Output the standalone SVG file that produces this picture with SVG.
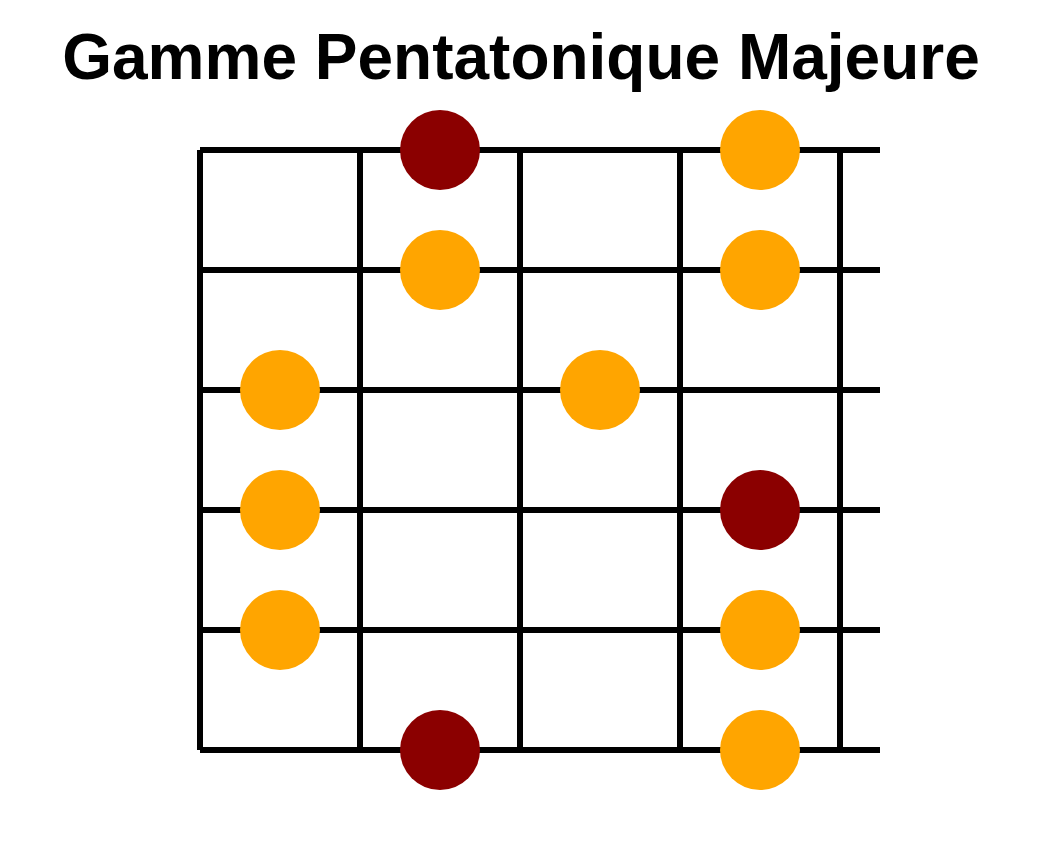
<svg xmlns="http://www.w3.org/2000/svg" width="1040" height="850" viewBox="0 0 1040 850">
<style>
.title{font-family:"Liberation Sans",Arial,sans-serif;font-weight:bold;font-size:64px;fill:#000}
.ln{stroke:#000;stroke-width:6;fill:none;stroke-linecap:butt}
.note{fill:#FFA500}
.root{fill:#8B0000}
</style>
<rect width="1040" height="850" fill="#fff"/>
<text class="title" x="521" y="79" text-anchor="middle">Gamme Pentatonique Majeure</text>
<g id="connectors">
<line class="ln" x1="200" y1="150" x2="880" y2="150"/>
<line class="ln" x1="200" y1="270" x2="880" y2="270"/>
<line class="ln" x1="200" y1="390" x2="880" y2="390"/>
<line class="ln" x1="200" y1="510" x2="880" y2="510"/>
<line class="ln" x1="200" y1="630" x2="880" y2="630"/>
<line class="ln" x1="200" y1="750" x2="880" y2="750"/>
<line class="ln" x1="200" y1="150" x2="200" y2="750"/>
<line class="ln" x1="360" y1="150" x2="360" y2="750"/>
<line class="ln" x1="520" y1="150" x2="520" y2="750"/>
<line class="ln" x1="680" y1="150" x2="680" y2="750"/>
<line class="ln" x1="840" y1="150" x2="840" y2="750"/>
</g>
<g id="n1"><circle class="root" cx="440" cy="150" r="40"/></g>
<g id="n2"><circle class="note" cx="760" cy="150" r="40"/></g>
<g id="n3"><circle class="note" cx="440" cy="270" r="40"/></g>
<g id="n4"><circle class="note" cx="760" cy="270" r="40"/></g>
<g id="n5"><circle class="note" cx="280" cy="390" r="40"/></g>
<g id="n6"><circle class="note" cx="600" cy="390" r="40"/></g>
<g id="n7"><circle class="note" cx="280" cy="510" r="40"/></g>
<g id="n8"><circle class="root" cx="760" cy="510" r="40"/></g>
<g id="n9"><circle class="note" cx="280" cy="630" r="40"/></g>
<g id="n10"><circle class="note" cx="760" cy="630" r="40"/></g>
<g id="n11"><circle class="root" cx="440" cy="750" r="40"/></g>
<g id="n12"><circle class="note" cx="760" cy="750" r="40"/></g>
</svg>
